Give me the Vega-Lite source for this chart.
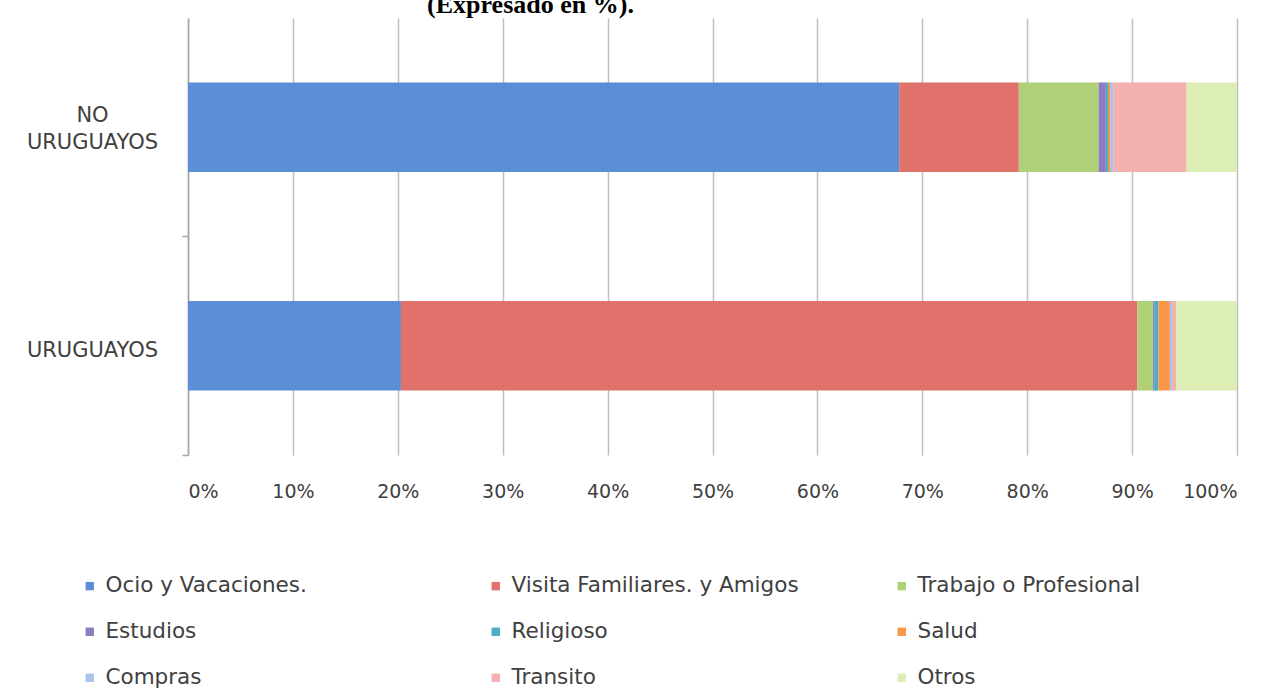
{
  "$schema": "https://vega.github.io/schema/vega-lite/v6.json",
  "width": 1049,
  "height": 437,
  "autosize": {"type": "none"},
  "padding": {"left": 188, "top": 18, "right": 39, "bottom": 236},
  "background": "white",
  "title": {
    "text": "(Expresado en %).",
    "font": "Liberation Serif",
    "fontWeight": "bold",
    "fontSize": 26,
    "color": "#000000",
    "anchor": "middle",
    "dx": -182,
    "baseline": "alphabetic",
    "offset": -21
  },
  "data": {
    "values": [
      {"grupo": "NO URUGUAYOS", "motivo": "Ocio y Vacaciones.", "valor": 67.8, "orden": 1},
      {"grupo": "NO URUGUAYOS", "motivo": "Visita Familiares. y Amigos", "valor": 11.4, "orden": 2},
      {"grupo": "NO URUGUAYOS", "motivo": "Trabajo o Profesional", "valor": 7.6, "orden": 3},
      {"grupo": "NO URUGUAYOS", "motivo": "Estudios", "valor": 0.7, "orden": 4},
      {"grupo": "NO URUGUAYOS", "motivo": "Religioso", "valor": 0.2, "orden": 5},
      {"grupo": "NO URUGUAYOS", "motivo": "Salud", "valor": 0.2, "orden": 6},
      {"grupo": "NO URUGUAYOS", "motivo": "Compras", "valor": 0.3, "orden": 7},
      {"grupo": "NO URUGUAYOS", "motivo": "Transito", "valor": 7.0, "orden": 8},
      {"grupo": "NO URUGUAYOS", "motivo": "Otros", "valor": 4.8, "orden": 9},
      {"grupo": "URUGUAYOS", "motivo": "Ocio y Vacaciones.", "valor": 20.3, "orden": 1},
      {"grupo": "URUGUAYOS", "motivo": "Visita Familiares. y Amigos", "valor": 70.2, "orden": 2},
      {"grupo": "URUGUAYOS", "motivo": "Trabajo o Profesional", "valor": 1.5, "orden": 3},
      {"grupo": "URUGUAYOS", "motivo": "Estudios", "valor": 0.1, "orden": 4},
      {"grupo": "URUGUAYOS", "motivo": "Religioso", "valor": 0.4, "orden": 5},
      {"grupo": "URUGUAYOS", "motivo": "Salud", "valor": 1.1, "orden": 6},
      {"grupo": "URUGUAYOS", "motivo": "Compras", "valor": 0.2, "orden": 7},
      {"grupo": "URUGUAYOS", "motivo": "Transito", "valor": 0.4, "orden": 8},
      {"grupo": "URUGUAYOS", "motivo": "Otros", "valor": 5.8, "orden": 9}
    ]
  },
  "mark": {"type": "bar"},
  "encoding": {
    "y": {
      "field": "grupo",
      "type": "nominal",
      "sort": ["NO URUGUAYOS", "URUGUAYOS"],
      "scale": {"paddingInner": 0.59, "paddingOuter": 0.295},
      "axis": {
        "title": null,
        "domainColor": "#A6A6A6",
        "domainWidth": 1.5,
        "tickColor": "#A6A6A6",
        "tickWidth": 1.5,
        "tickSize": 6,
        "tickOffset": 109,
        "labelAlign": "center",
        "labelBaseline": "middle",
        "labelPadding": 90,
        "labelOffset": {"condition": {"test": "datum.value == 'NO URUGUAYOS'", "value": -121}, "value": -104},
        "labelFont": "DejaVu Sans",
        "labelFontSize": 21,
        "labelColor": "#404040",
        "labelLineHeight": 27,
        "labelExpr": "datum.label == 'NO URUGUAYOS' ? ['NO', 'URUGUAYOS'] : datum.label"
      }
    },
    "x": {
      "field": "valor",
      "type": "quantitative",
      "stack": "zero",
      "scale": {"domain": [0, 100], "nice": false},
      "axis": {
        "title": null,
        "values": [0, 10, 20, 30, 40, 50, 60, 70, 80, 90, 100],
        "labelExpr": "datum.value + '%'",
        "domain": false,
        "ticks": false,
        "grid": true,
        "gridColor": "#BFBFBF",
        "gridWidth": 1.5,
        "labelPadding": 27,
        "labelFont": "DejaVu Sans",
        "labelFontSize": 19,
        "labelColor": "#404040",
        "labelBaseline": "top"
      }
    },
    "order": {"field": "orden", "type": "quantitative"},
    "color": {
      "field": "motivo",
      "type": "nominal",
      "sort": null,
      "scale": {
        "domain": ["Ocio y Vacaciones.", "Visita Familiares. y Amigos", "Trabajo o Profesional", "Estudios", "Religioso", "Salud", "Compras", "Transito", "Otros"],
        "range": ["#5B8ED6", "#E0716B", "#B0D078", "#8E7CC3", "#4BACC6", "#F79646", "#A6C3E8", "#F4AFAF", "#DCEDB6"]
      },
      "legend": {
        "title": null,
        "orient": "none",
        "legendX": -109,
        "legendY": 557,
        "direction": "horizontal",
        "columns": 3,
        "gridAlign": "all",
        "columnPadding": 92,
        "rowPadding": 23,
        "padding": 0,
        "symbolType": "square",
        "symbolSize": 70,
        "symbolStrokeWidth": 0,
        "labelOffset": 5,
        "labelFont": "DejaVu Sans",
        "labelFontSize": 21.5,
        "labelColor": "#404040",
        "labelLimit": 400
      }
    }
  },
  "config": {
    "view": {"stroke": null}
  }
}
